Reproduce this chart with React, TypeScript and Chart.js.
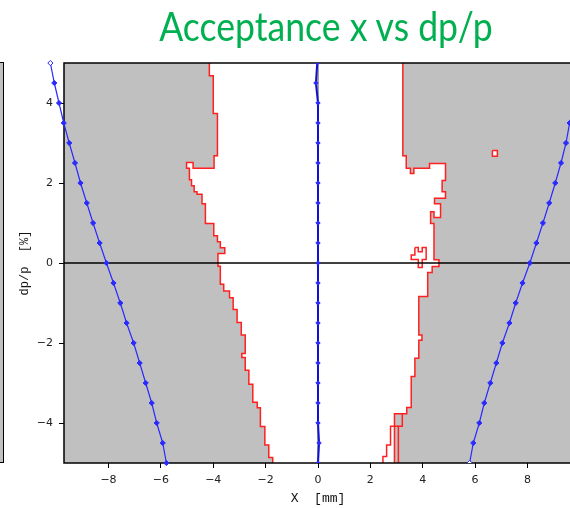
import React, { useEffect, useRef } from 'react';
import { Chart, registerables } from 'chart.js';
Chart.register(...registerables);

// ---- data ----
const titleText = 'Acceptance x vs dp/p';
const xTickValues = [-8, -6, -4, -2, 0, 2, 4, 6, 8];
const yTickValues = [-4, -2, 0, 2, 4];

// dp/p levels (bottom to top) for the tracked acceptance curves
const dpLevels = [-5, -4.5, -4, -3.5, -3, -2.5, -2, -1.5, -1, -0.5, 0, 0.5, 1, 1.5, 2, 2.5, 3, 3.5, 4, 4.5, 5];
const leftAcceptanceX = [-5.79, -5.93, -6.16, -6.35, -6.58, -6.81, -7.04, -7.31, -7.55, -7.81, -8.08, -8.34, -8.59, -8.83, -9.07, -9.28, -9.5, -9.71, -9.89, -10.07, -10.22];
const rightAcceptanceX = [5.79, 5.93, 6.16, 6.35, 6.58, 6.81, 7.04, 7.31, 7.55, 7.81, 8.09, 8.34, 8.59, 8.83, 9.06, 9.28, 9.47, 9.61, 9.8, 9.97, 10.12];
const centralOrbitX = [0, 0.04, 0, 0, 0, 0, 0, 0, 0, 0, 0, 0, 0, 0, 0, 0, 0, 0, 0, -0.08, -0.03];

// red boundary of the tracked acceptance (x, dp/p)
const leftBoundary: number[][] = [
  [-4.15, 5], [-4.15, 4.68], [-4.0, 4.68], [-4.0, 3.74], [-3.84, 3.74], [-3.84, 2.68], [-3.97, 2.68], [-3.97, 2.37],
  [-4.77, 2.37], [-4.77, 2.51], [-5.02, 2.51], [-5.02, 2.37], [-4.91, 2.37], [-4.91, 2.08], [-4.83, 2.08], [-4.83, 1.93],
  [-4.73, 1.93], [-4.73, 1.78], [-4.62, 1.78], [-4.62, 1.72], [-4.43, 1.72], [-4.43, 1.48], [-4.3, 1.48], [-4.3, 0.99],
  [-3.98, 0.99], [-3.98, 0.68], [-3.84, 0.68], [-3.84, 0.53], [-3.73, 0.53], [-3.73, 0.38], [-3.56, 0.38], [-3.56, 0.24],
  [-3.82, 0.24], [-3.82, -0.08], [-3.73, -0.08], [-3.73, -0.53], [-3.6, -0.53], [-3.6, -0.7], [-3.38, -0.7], [-3.38, -0.87],
  [-3.24, -0.87], [-3.24, -1.16], [-3.09, -1.16], [-3.09, -1.49], [-2.93, -1.49], [-2.93, -1.8], [-2.78, -1.8], [-2.78, -2.26],
  [-2.91, -2.26], [-2.91, -2.36], [-2.78, -2.36], [-2.78, -2.68], [-2.64, -2.68], [-2.64, -3.03], [-2.49, -3.03], [-2.49, -3.48],
  [-2.32, -3.48], [-2.32, -3.62], [-2.2, -3.62], [-2.2, -4.09], [-2.03, -4.09], [-2.03, -4.55], [-1.88, -4.55], [-1.88, -4.86],
  [-1.73, -4.86], [-1.73, -5],
];
const rightBoundary: number[][] = [
  [3.24, 5], [3.24, 2.68], [3.37, 2.68], [3.37, 2.37], [3.53, 2.37], [3.53, 2.24], [3.66, 2.24], [3.66, 2.37],
  [4.26, 2.37], [4.26, 2.49], [4.87, 2.49], [4.87, 2.06], [4.74, 2.06], [4.74, 1.78], [4.87, 1.78], [4.87, 1.62],
  [4.45, 1.62], [4.45, 1.48], [4.68, 1.48], [4.68, 1.14], [4.43, 1.14], [4.43, 1.28], [4.3, 1.28], [4.3, 0.99],
  [4.43, 0.99], [4.43, 0.08], [4.62, 0.08], [4.62, -0.09], [4.36, -0.09], [4.36, -0.24], [4.19, -0.24], [4.19, -0.84],
  [3.85, -0.84], [3.85, -1.8], [3.97, -1.8], [3.97, -1.93], [3.85, -1.93], [3.85, -2.38], [3.7, -2.38], [3.7, -2.84],
  [3.56, -2.84], [3.56, -3.61], [3.39, -3.61], [3.39, -3.77], [3.22, -3.77], [2.92, -3.77], [2.92, -5],
];
const rightInnerStep: number[][] = [[3.22, -3.77], [3.22, -4.08], [3.07, -4.08], [3.07, -5]];
const rightOuterStep: number[][] = [[3.07, -4.08], [2.77, -4.08], [2.77, -4.55], [2.62, -4.55], [2.62, -4.84], [2.48, -4.84], [2.48, -5]];
const islandOutline: number[][] = [
  [3.7, 0.39], [3.83, 0.39], [3.83, 0.28], [3.98, 0.28], [3.98, 0.39], [4.13, 0.39], [4.13, 0.09], [3.98, 0.09],
  [3.98, -0.11], [3.83, -0.11], [3.83, 0.09], [3.56, 0.09], [3.56, 0.2], [3.7, 0.2], [3.7, 0.39],
];
const holeOutline: number[][] = [[6.66, 2.81], [6.85, 2.81], [6.85, 2.67], [6.66, 2.67], [6.66, 2.81]];

// ---- helpers ----
const pts = (arr: number[][]) => arr.map(([x, y]) => ({ x, y }));
const curve = (xs: number[]) => xs.map((x, i) => ({ x, y: dpLevels[i] }));
const region = (b: number[][], side: number) => {
  const first = b[0];
  const last = b[b.length - 1];
  return pts([[side, 6], [first[0], 6], ...b, [last[0], -6], [side, -6]]);
};
const fmt = (v: number) => (v < 0 ? '\u2212' + Math.abs(v) : String(v));

const GRAY = '#c0c0c0';
const RED = '#ff2020';
const BLUE = '#2a2aff';

const framePlugin = {
  id: 'frame',
  afterDatasetDraw(chart: any, args: any) {
    const label = chart.data.datasets[args.index].label;
    const ctx = chart.ctx;
    const area = chart.chartArea;
    if (label === 'zeroH') {
      ctx.save();
      ctx.strokeStyle = '#000';
      ctx.lineWidth = 1.5;
      ctx.strokeRect(area.left, area.top, area.right - area.left, area.bottom - area.top);
      ctx.restore();
    }
    if (label === 'leftCurve') {
      // markers that lie outside the plotting frame (the library skips them)
      const meta = chart.getDatasetMeta(args.index);
      const big = { left: -1e4, top: -1e4, right: 1e4, bottom: 1e4 };
      meta.data.forEach((el: any) => {
        const half = el.size(el.options) / 2;
        if (el.x < area.left - half) el.draw(ctx, big);
      });
    }
  },
};

export default function App() {
  const ref = useRef<HTMLCanvasElement | null>(null);
  useEffect(() => {
    document.body.style.margin = '0';
    if (!ref.current) return;
    const tickFont = { family: 'DejaVu Sans', size: 11 };
    const lineDs = (label: string, data: any[], color: string, width: number, order: number, extra: any = {}) => ({
      label, data, borderColor: color, borderWidth: width, pointRadius: 0, fill: false, tension: 0, order, ...extra,
    });
    const chart = new Chart(ref.current, {
      type: 'line',
      data: {
        datasets: [
          lineDs('center', curve(centralOrbitX), '#1010d0', 2, 0, {
            pointRadius: 2.2, pointStyle: 'rectRot', pointBackgroundColor: '#2a2aff', pointBorderColor: '#2a2aff', pointBorderWidth: 1,
          }),
          lineDs('leftCurve', curve(leftAcceptanceX), BLUE, 1.2, 1, {
            clip: false, pointRadius: 2.6, pointStyle: 'rectRot', pointBorderColor: BLUE, pointBorderWidth: 1,
            pointBackgroundColor: leftAcceptanceX.map((_, i) => (i === leftAcceptanceX.length - 1 ? '#ffffff' : BLUE)),
          }),
          lineDs('rightCurve', curve(rightAcceptanceX), BLUE, 1.2, 1, {
            pointRadius: 2.6, pointStyle: 'rectRot', pointBorderColor: BLUE, pointBorderWidth: 1,
            pointBackgroundColor: rightAcceptanceX.map((_, i) => (i === 0 ? '#ffffff' : BLUE)),
          }),
          lineDs('zeroH', pts([[-12, 0], [12, 0]]), '#000', 1.5, 2),
          lineDs('zeroV', pts([[0, -6], [0, 6]]), '#808080', 1.5, 3),
          lineDs('island', pts(islandOutline), RED, 1.5, 4),
          lineDs('hole', pts(holeOutline), RED, 1.5, 4, { fill: 'shape', backgroundColor: '#ffffff' }),
          lineDs('innerStep', pts(rightInnerStep), RED, 1.5, 4),
          lineDs('outerStep', pts(rightOuterStep), RED, 1.5, 4),
          lineDs('leftBoundary', pts(leftBoundary), RED, 1.5, 5),
          lineDs('rightBoundary', pts(rightBoundary), RED, 1.5, 5),
          lineDs('leftRegion', region(leftBoundary, -12), 'rgba(0,0,0,0)', 0, 6, { fill: 'shape', backgroundColor: GRAY }),
          lineDs('rightRegion', region(rightBoundary, 12), 'rgba(0,0,0,0)', 0, 6, { fill: 'shape', backgroundColor: GRAY }),
        ],
      },
      options: {
        responsive: false,
        animation: false,
        events: [],
        layout: { padding: { top: 63, right: 28, left: 0, bottom: 0 } },
        plugins: { legend: { display: false }, tooltip: { enabled: false }, title: { display: false } },
        scales: {
          x: {
            type: 'linear',
            min: -9.7,
            max: 9.7,
            afterBuildTicks: (ax: any) => { ax.ticks = xTickValues.map((v) => ({ value: v })); },
            afterFit: (s: any) => { s.height = 45; },
            border: { display: false },
            grid: { drawOnChartArea: false, drawTicks: true, tickLength: 5, tickColor: '#000', color: 'rgba(0,0,0,0)' },
            ticks: { font: tickFont, color: '#222', padding: 6, maxRotation: 0, autoSkip: false, callback: (v: any) => fmt(Number(v)) },
            title: { display: true, text: 'X  [mm]', font: { family: 'Liberation Mono', size: 13 }, color: '#111', padding: { top: 0, bottom: 2 } },
          },
          y: {
            type: 'linear',
            min: -5,
            max: 5,
            afterBuildTicks: (ax: any) => { ax.ticks = yTickValues.map((v) => ({ value: v })); },
            afterFit: (s: any) => { s.width = 64; },
            border: { display: false },
            grid: { drawOnChartArea: false, drawTicks: true, tickLength: 5, tickColor: '#000', color: 'rgba(0,0,0,0)' },
            ticks: { font: tickFont, color: '#222', padding: 6, autoSkip: false, callback: (v: any) => fmt(Number(v)) },
            title: { display: true, text: 'dp/p  [%]', font: { family: 'Liberation Mono', size: 12 }, color: '#111', padding: { top: 18, bottom: 0 } },
          },
        },
      },
      plugins: [framePlugin],
    } as any);
    return () => chart.destroy();
  }, []);

  return (
    <div style={{ position: 'relative', width: 570, height: 508, overflow: 'hidden', background: '#fff' }}>
      <style>{'body{margin:0}'}</style>
      <canvas ref={ref} width={600} height={508} style={{ position: 'absolute', left: 0, top: 0, width: 600, height: 508 }} />
      <div
        style={{
          position: 'absolute', left: -4, top: 62, width: 6, height: 399, background: GRAY,
          border: '1.5px solid #000',
        }}
      />
      <div
        style={{
          position: 'absolute', left: 0, top: 0, width: 652, textAlign: 'center', color: '#00b050',
          fontFamily: 'Lato, "Open Sans", sans-serif', fontSize: 40, lineHeight: '52px', whiteSpace: 'nowrap',
          transform: 'scaleX(0.89)', transformOrigin: '326px 0',
        }}
      >
        {titleText}
      </div>
    </div>
  );
}
